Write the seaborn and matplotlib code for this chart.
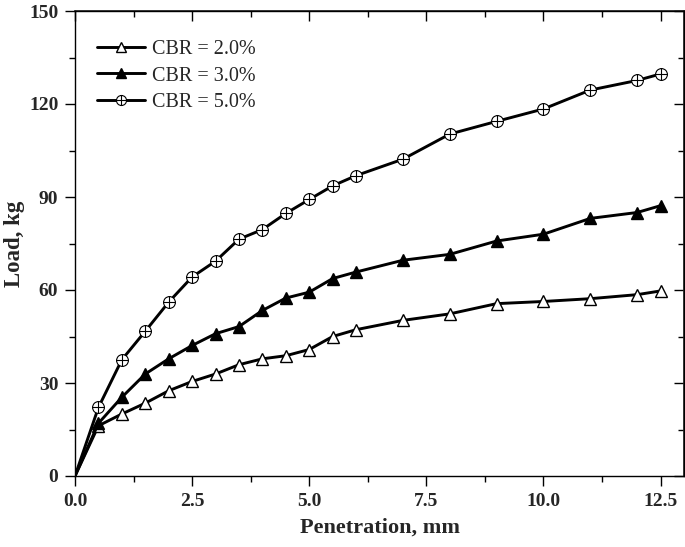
import numpy as np
import pandas as pd
import matplotlib
matplotlib.use("Agg")
import matplotlib.pyplot as plt
import seaborn as sns
from matplotlib.path import Path
from matplotlib.ticker import MultipleLocator

# ---- data ----
penetration = [0, 0.5, 1.0, 1.5, 2.0, 2.5, 3.0, 3.5, 4.0, 4.5, 5.0, 5.5, 6.0,
               7.0, 8.0, 9.0, 10.0, 11.0, 12.0, 12.5]
cbr2 = [0, 16.2, 20.0, 23.5, 27.5, 30.5, 32.9, 35.9, 37.8, 38.8, 40.8, 45.0, 47.2,
        50.2, 52.3, 55.6, 56.3, 57.2, 58.5, 59.7]
cbr3 = [0, 17.0, 25.4, 32.9, 37.8, 42.1, 45.9, 48.2, 53.4, 57.4, 59.3, 63.7, 65.8,
        69.6, 71.5, 75.8, 78.0, 83.1, 85.0, 87.2]
cbr5 = [0, 22.1, 37.5, 46.7, 56.1, 64.2, 69.3, 76.4, 79.5, 84.7, 89.2, 93.6, 96.9,
        102.2, 110.3, 114.4, 118.4, 124.5, 127.6, 129.7]
labels = ["CBR = 2.0%", "CBR = 3.0%", "CBR = 5.0%"]
x_ticks = [0.0, 2.5, 5.0, 7.5, 10.0, 12.5]
y_ticks = [0, 30, 60, 90, 120, 150]

sns.set_theme(style="white")
plt.rcParams['font.family'] = ['Liberation Serif', 'DejaVu Serif']

fig = plt.figure(figsize=(6.85, 5.47), dpi=100)
ax = fig.add_axes([75/685, 1-476/547, (684-75)/685, (476-11)/547])

# circle-with-plus marker
oplus = Path.make_compound_path(
    Path.unit_circle(),
    Path([[-1, 0], [1, 0]], [Path.MOVETO, Path.LINETO]),
    Path([[0, -1], [0, 1]], [Path.MOVETO, Path.LINETO]),
)

n = len(penetration)
styles = [
    dict(marker="^", markersize=9, markerfacecolor="white", markeredgecolor="black", markeredgewidth=1.0),
    dict(marker="^", markersize=9, markerfacecolor="black", markeredgecolor="black", markeredgewidth=1.0),
    dict(marker=oplus, markersize=8.5, markerfacecolor="white", markeredgecolor="black", markeredgewidth=0.8),
]
for ys, lab, st in zip([cbr2, cbr3, cbr5], labels, styles):
    df = pd.DataFrame({"x": penetration, "y": ys})
    sns.lineplot(data=df, x="x", y="y", ax=ax, color="black", linewidth=2.1,
                 label=lab, markevery=list(range(1, n)), **st)

ax.set_xlim(0, 13)
ax.set_ylim(0, 150)
ax.set_xticks(x_ticks)
ax.set_yticks(y_ticks)
ax.set_xticklabels([f"{v:.1f}" for v in x_ticks])
ax.set_yticklabels([str(v) for v in y_ticks])
ax.xaxis.set_minor_locator(MultipleLocator(1.25))
ax.yaxis.set_minor_locator(MultipleLocator(15))
ax.tick_params(axis="both", which="major", direction="out", length=7, width=1.0,
               labelsize=14, color="black", pad=5)
ax.tick_params(axis="both", which="minor", direction="out", length=4, width=1.0, color="black")
ax.tick_params(bottom=True, left=True, top=False, right=False, which="both")
for lab in ax.get_xticklabels() + ax.get_yticklabels():
    lab.set_fontweight("bold")

# mirrored inward ticks on top and right
secx = ax.secondary_xaxis("top")
secx.set_xticks(x_ticks)
secx.xaxis.set_minor_locator(MultipleLocator(1.25))
secx.tick_params(which="major", direction="in", length=7, width=1.0, labeltop=False, color="black")
secx.tick_params(which="minor", direction="in", length=4, width=1.0, color="black")
secy = ax.secondary_yaxis("right")
secy.set_yticks(y_ticks)
secy.yaxis.set_minor_locator(MultipleLocator(15))
secy.tick_params(which="major", direction="in", length=7, width=1.0, labelright=False, color="black")
secy.tick_params(which="minor", direction="in", length=4, width=1.0, color="black")

for sp in ax.spines.values():
    sp.set_linewidth(1.0)
    sp.set_color("black")

ax.set_xlabel("Penetration, mm", fontsize=16, fontweight="bold", labelpad=6)
ax.set_ylabel("Load, kg", fontsize=16.5, fontweight="bold", labelpad=3)

handles, labs = ax.get_legend_handles_labels()
ax.legend(handles, labs, loc="upper left", bbox_to_anchor=(0.036, 0.937),
          frameon=False, fontsize=14.5, handlelength=2.4, handletextpad=0.35,
          labelspacing=0.35, borderaxespad=0, borderpad=0, markerscale=0.85)

fig.savefig("out.png", dpi=100)
